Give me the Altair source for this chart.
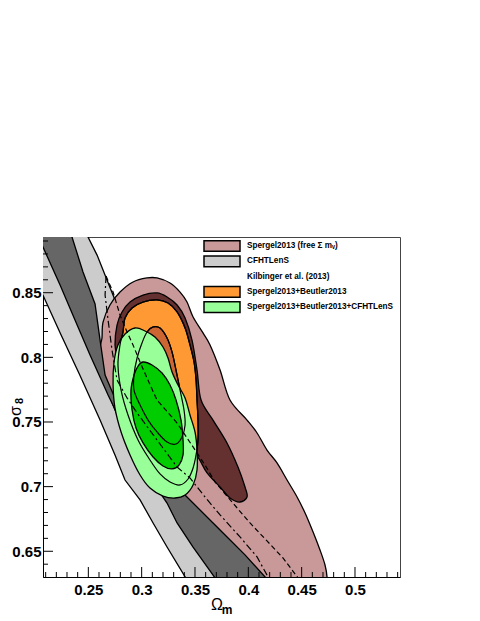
import altair as alt
import pandas as pd

# ---------------- data (Omega_m, sigma_8) ----------------
# CFHTLenS 95% band (light grey)
cfht2_x = [0.186, 0.186, 0.2075, 0.2235, 0.2422, 0.261, 0.275, 0.2844, 0.2985, 0.3107, 0.3238, 0.3425, 0.3547,
           0.4578, 0.4485, 0.4016, 0.3547, 0.3078, 0.2844, 0.275, 0.2675, 0.2582, 0.2497, 0.2422]
cfht2_y = [0.910, 0.887, 0.848, 0.819, 0.786, 0.7515, 0.7245, 0.7051, 0.6897, 0.6719, 0.6533, 0.6278, 0.6123,
           0.6123, 0.6301, 0.6665, 0.7206, 0.7825, 0.8212, 0.8444, 0.8598, 0.8791, 0.8931, 0.9101]
# CFHTLenS 68% band (dark grey)
cfht1_x = [0.1953, 0.2075, 0.2235, 0.2375, 0.2516, 0.2685, 0.2844, 0.306, 0.3238, 0.3332, 0.3482, 0.3688, 0.3782,
           0.4485, 0.4157, 0.3969, 0.3735, 0.3425, 0.3078, 0.2797, 0.2657, 0.261, 0.2563, 0.245, 0.2347, 0.2272]
cfht1_y = [0.9101, 0.8853, 0.856, 0.8289, 0.8018, 0.7709, 0.7438, 0.709, 0.6873, 0.6719, 0.6533, 0.6294, 0.6123,
           0.6123, 0.6301, 0.6472, 0.6665, 0.692, 0.7206, 0.7593, 0.7863, 0.8134, 0.8413, 0.866, 0.8931, 0.9101]
# Spergel2013 (free sum m_nu) 95% (pink)
sp2_x = [0.2628, 0.2638, 0.2703, 0.2797, 0.2919, 0.305, 0.3144, 0.3266, 0.336, 0.3425, 0.3482, 0.3575, 0.3641,
         0.3735, 0.3828, 0.3988, 0.4082, 0.4175, 0.4269, 0.4363, 0.4457, 0.4532, 0.4607, 0.4672, 0.4719, 0.4738,
         0.4747, 0.4016, 0.3922, 0.366, 0.3341, 0.2985, 0.275, 0.2647, 0.261]
sp2_y = [0.815, 0.8273, 0.8405, 0.8505, 0.8583, 0.8614, 0.8614, 0.8575, 0.8505, 0.8428, 0.8312, 0.8189, 0.8096,
         0.7902, 0.767, 0.7515, 0.7415, 0.7283, 0.7183, 0.7051, 0.692, 0.6796, 0.6649, 0.651, 0.6394, 0.6301,
         0.6123, 0.6123, 0.6301, 0.6588, 0.6858, 0.7206, 0.7593, 0.7863, 0.8057]
# Spergel2013 68% (dark brown)
sp1_x = [0.275, 0.2769, 0.2816, 0.2891, 0.3013, 0.3144, 0.3238, 0.3332, 0.3407, 0.3472, 0.3519, 0.3557, 0.3669,
         0.38, 0.3903, 0.3969, 0.3988, 0.3922, 0.3828, 0.3735, 0.3613, 0.3528, 0.3407, 0.3219, 0.3032, 0.2872, 0.2778]
sp1_y = [0.8096, 0.825, 0.8351, 0.8428, 0.8482, 0.8498, 0.8467, 0.8405, 0.8304, 0.8134, 0.7902, 0.767, 0.7515,
         0.7338, 0.7152, 0.6997, 0.692, 0.6881, 0.6912, 0.6997, 0.7106, 0.7229, 0.7361, 0.7531, 0.7686, 0.784, 0.798]
# Spergel2013+Beutler2013 95% (orange)
sb2_x = [0.2825, 0.2844, 0.291, 0.3013, 0.3144, 0.3247, 0.3332, 0.3407, 0.3453, 0.3491, 0.351, 0.3519, 0.3528,
         0.3528, 0.351, 0.3482, 0.3435, 0.336, 0.3266, 0.3172, 0.3078, 0.2966, 0.2872, 0.2807, 0.2778, 0.2797]
sb2_y = [0.8196, 0.8304, 0.8382, 0.8428, 0.8444, 0.842, 0.8351, 0.8227, 0.8096, 0.7964, 0.7825, 0.767, 0.7515,
         0.7361, 0.7245, 0.7144, 0.7059, 0.7013, 0.7036, 0.7098, 0.7206, 0.7361, 0.7554, 0.7747, 0.7941, 0.8096]
# Spergel2013+Beutler2013 68% (dark orange)
sb1_x = [0.3107, 0.3172, 0.3238, 0.3285, 0.3322, 0.336, 0.3397, 0.3407, 0.3378, 0.3322, 0.3238, 0.3144, 0.306,
         0.2985, 0.2928, 0.2928, 0.2957, 0.3003, 0.305]
sb1_y = [0.8235, 0.8227, 0.815, 0.8041, 0.7902, 0.7747, 0.7593, 0.7477, 0.7384, 0.733, 0.7345, 0.7423, 0.7515,
         0.7631, 0.7747, 0.7863, 0.7995, 0.8111, 0.8196]
# Spergel2013+Beutler2013+CFHTLenS 95% (light green)
sbc2_x = [0.2938, 0.3032, 0.3125, 0.32, 0.3247, 0.3285, 0.3341, 0.3407, 0.3453, 0.35, 0.3519, 0.3519, 0.3482,
          0.3407, 0.3313, 0.32, 0.3078, 0.2985, 0.2891, 0.2807, 0.275, 0.2732, 0.2741, 0.2778, 0.2844]
sbc2_y = [0.8227, 0.8204, 0.8157, 0.808, 0.7995, 0.7887, 0.7786, 0.7686, 0.7554, 0.7423, 0.7283, 0.7129, 0.7013,
          0.6935, 0.6912, 0.6927, 0.6989, 0.709, 0.7245, 0.7423, 0.7608, 0.7786, 0.7964, 0.8096, 0.8181]
# Spergel2013+Beutler2013+CFHTLenS 68% (green)
sbc1_x = [0.3013, 0.3097, 0.3191, 0.3266, 0.3322, 0.3369, 0.3388, 0.3388, 0.335, 0.3285, 0.32, 0.3107, 0.3013,
          0.2947, 0.291, 0.29, 0.2928, 0.2966]
sbc1_y = [0.7964, 0.7941, 0.7879, 0.7786, 0.767, 0.7515, 0.7361, 0.7245, 0.7167, 0.7137, 0.716, 0.7229, 0.7338,
          0.7454, 0.7593, 0.7747, 0.7863, 0.7933]
# Kilbinger et al. (2013) contours (lines only)
kil_dash_x = [0.2666, 0.2732, 0.2797, 0.2863, 0.2919, 0.2985, 0.305, 0.3144, 0.3332, 0.3482, 0.3594, 0.3688,
              0.3847, 0.4016, 0.4175, 0.4325, 0.4466, 0.4532]
kil_dash_y = [0.8629, 0.8505, 0.8328, 0.8196, 0.8096, 0.7964, 0.784, 0.767, 0.7492, 0.7307, 0.7167, 0.7036,
              0.6881, 0.6719, 0.658, 0.6448, 0.6294, 0.62]
kil_dd_x = [0.2666, 0.2657, 0.2685, 0.2722, 0.2769, 0.2863, 0.2957, 0.3144, 0.3332, 0.3453, 0.3594, 0.3735,
            0.3922, 0.4082, 0.4185, 0.4232]
kil_dd_y = [0.8629, 0.8482, 0.8289, 0.8057, 0.7825, 0.7686, 0.757, 0.7361, 0.7152, 0.7067, 0.692, 0.6781,
            0.6611, 0.6456, 0.6301, 0.62]

# axis ticks
x_major = [0.25, 0.3, 0.35, 0.4, 0.45, 0.5]
x_minor = [0.21, 0.22, 0.23, 0.24, 0.26, 0.27, 0.28, 0.29, 0.31, 0.32, 0.33, 0.34, 0.36, 0.37, 0.38, 0.39,
           0.41, 0.42, 0.43, 0.44, 0.46, 0.47, 0.48, 0.49, 0.51, 0.52, 0.53, 0.54]
y_major = [0.65, 0.7, 0.75, 0.8, 0.85]
y_minor = [0.64, 0.66, 0.67, 0.68, 0.69, 0.71, 0.72, 0.73, 0.74, 0.76, 0.77, 0.78, 0.79, 0.81, 0.82, 0.83,
           0.84, 0.86, 0.87, 0.88, 0.89]

legend_labels = ["Spergel2013 (free \u03a3 m\u1d65)", "CFHTLenS", "Kilbinger et al. (2013)",
                 "Spergel2013+Beutler2013", "Spergel2013+Beutler2013+CFHTLenS"]
legend_fills = ["#c99999", "#cccccc", "rgba(0,0,0,0)", "#ff9933", "#99ff99"]
legend_strokes = ["black", "black", "rgba(0,0,0,0)", "black", "black"]

X_DOMAIN = [0.2075, 0.5422]
Y_DOMAIN = [0.6301, 0.8931]
W, H = 357, 340
FONT = "Liberation Sans"

xs = alt.Scale(domain=X_DOMAIN, nice=False, zero=False)
ys = alt.Scale(domain=Y_DOMAIN, nice=False, zero=False)
X = alt.X("x:Q", scale=xs, title=None,
          axis=alt.Axis(values=x_major, format="~g", ticks=False, grid=False, labelFont=FONT,
                        labelFontWeight="bold", labelFontSize=15, labelPadding=5, domainColor="black",
                        labelColor="black", labelFlush=False))
Y = alt.Y("y:Q", scale=ys, title=None,
          axis=alt.Axis(values=y_major, format="~g", ticks=False, grid=False, labelFont=FONT,
                        labelFontWeight="bold", labelFontSize=15, labelPadding=2, domainColor="black",
                        labelColor="black", labelFlush=False))


def poly(xv, yv):
    return pd.DataFrame({"x": xv, "y": yv, "i": list(range(len(xv)))})


def filled(xv, yv, color, interp):
    return alt.Chart(poly(xv, yv)).mark_line(
        fill=color, stroke="black", strokeWidth=1.3, interpolate=interp, clip=True
    ).encode(x=X, y=Y, order="i:Q")


def outline(xv, yv, interp, dash=None):
    kw = dict(stroke="black", strokeWidth=1.2, interpolate=interp, clip=True)
    if dash:
        kw["strokeDash"] = dash
    return alt.Chart(poly(xv, yv)).mark_line(**kw).encode(x=X, y=Y, order="i:Q")


layers = [
    filled(cfht2_x, cfht2_y, "#cccccc", "linear-closed"),
    filled(sp2_x, sp2_y, "#c99999", "cardinal-closed"),
    filled(cfht1_x, cfht1_y, "#666666", "linear-closed"),
    filled(sp1_x, sp1_y, "#643030", "cardinal-closed"),
    filled(sb2_x, sb2_y, "#ff9933", "cardinal-closed"),
    filled(sb1_x, sb1_y, "#cc6633", "cardinal-closed"),
    filled(sbc2_x, sbc2_y, "#99ff99", "cardinal-closed"),
    filled(sbc1_x, sbc1_y, "#00cc00", "cardinal-closed"),
    outline(sb2_x, sb2_y, "cardinal-closed"),
    outline(sb1_x, sb1_y, "cardinal-closed"),
    outline(kil_dash_x, kil_dash_y, "linear", [5, 3]),
    outline(kil_dd_x, kil_dd_y, "linear", [7, 3, 2, 3]),
]

# inward ticks
layers += [
    alt.Chart(pd.DataFrame({"x": x_major})).mark_rule(color="black", strokeWidth=1).encode(
        x=X, y=alt.value(H), y2=alt.value(H - 10)),
    alt.Chart(pd.DataFrame({"x": x_minor})).mark_rule(color="black", strokeWidth=1).encode(
        x=X, y=alt.value(H), y2=alt.value(H - 5)),
    alt.Chart(pd.DataFrame({"y": y_major})).mark_rule(color="black", strokeWidth=1).encode(
        y=Y, x=alt.value(0), x2=alt.value(10)),
    alt.Chart(pd.DataFrame({"y": y_minor})).mark_rule(color="black", strokeWidth=1).encode(
        y=Y, x=alt.value(0), x2=alt.value(5)),
]

# legend carrier (points outside the domain, clipped away)
leg = alt.Legend(orient="none", legendX=173, legendY=3, title=None,
                 symbolType="M-3.6,-1.07H3.6V1.07H-3.6Z", symbolSize=100, symbolStrokeWidth=1.5,
                 labelFont=FONT, labelFontWeight="bold", labelFontSize=8.2, labelColor="black",
                 labelOffset=19, rowPadding=-2.7, padding=0, symbolOpacity=1, labelLimit=300)
layers.append(
    alt.Chart(pd.DataFrame({"x": [0.0] * 5, "y": [0.0] * 5, "entry": legend_labels}))
    .mark_point(filled=True, clip=True, size=5)
    .encode(
        x=X, y=Y,
        fill=alt.Fill("entry:N", scale=alt.Scale(domain=legend_labels, range=legend_fills), legend=leg, sort=legend_labels),
        stroke=alt.Stroke("entry:N", scale=alt.Scale(domain=legend_labels, range=legend_strokes), legend=leg, sort=legend_labels),
    )
)

# axis titles
txt = pd.DataFrame({"d": [0]})
layers += [
    alt.Chart(txt).mark_text(text="\u03a9", font=FONT, fontSize=16, align="center", baseline="middle",
                             color="black").encode(x=alt.value(174), y=alt.value(368)),
    alt.Chart(txt).mark_text(text="m", font=FONT, fontSize=12, fontWeight="bold", align="center",
                             baseline="middle", color="black").encode(x=alt.value(184), y=alt.value(373)),
    alt.Chart(txt).mark_text(text="\u03c3", font=FONT, fontSize=16, angle=270, align="center",
                             baseline="middle", color="black").encode(x=alt.value(-27), y=alt.value(174)),
    alt.Chart(txt).mark_text(text="8", font=FONT, fontSize=11, fontWeight="bold", angle=270, align="center",
                             baseline="middle", color="black").encode(x=alt.value(-23), y=alt.value(164)),
]

chart = alt.layer(*layers).properties(
    width=W, height=H, autosize="none",
    padding={"left": 35, "top": 229, "right": 72, "bottom": 52},
    background="white",
).configure_view(stroke="#444", strokeWidth=1)

chart.save("out.html", embed_options={"renderer": "svg", "actions": False})
